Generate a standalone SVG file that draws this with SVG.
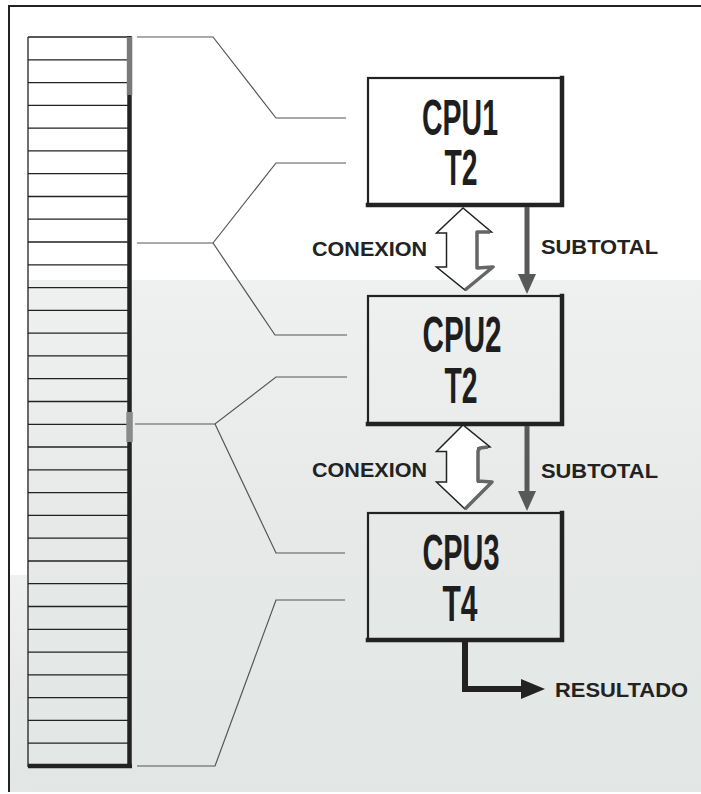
<svg xmlns="http://www.w3.org/2000/svg" width="701" height="794" viewBox="0 0 701 794">
<style>
.frame{fill:none;stroke:#222;stroke-width:2}
.cell{fill:none;stroke:#222;stroke-width:1.3}
.wire{fill:none;stroke:#555;stroke-width:1.2}
.box{fill:none;stroke:#222;stroke-width:2.2}
.shadow{fill:none;stroke:#222;stroke-width:4.5;stroke-linecap:square}
.cpu{font-family:"Liberation Sans",Arial,sans-serif;font-weight:bold;font-size:50px;fill:#1e1e1e;text-anchor:middle}
.lbl{font-family:"Liberation Sans",Arial,sans-serif;font-weight:bold;font-size:21px;fill:#222}
.conex{fill:#fff;stroke:#222;stroke-width:1.5;stroke-linejoin:miter}
.conexs{fill:none;stroke:#666;stroke-width:3.5;stroke-linejoin:round}
.sub{stroke:#585858;stroke-width:5;fill:none}
.subh{fill:#585858}
.res{stroke:#222;stroke-width:6;fill:none;stroke-linejoin:miter}
</style>
<defs>
<linearGradient id="bg" x1="0" y1="0" x2="0" y2="1">
<stop offset="0" stop-color="#eff1f0"/>
<stop offset="0.5" stop-color="#e6e9e8"/>
<stop offset="1" stop-color="#e2e7e5"/>
</linearGradient>
</defs>
<rect width="701" height="794" fill="#fff"/>
<rect x="27" y="280" width="674" height="512" fill="url(#bg)"/>
<rect x="10" y="575" width="17" height="217" fill="url(#bg)"/>
<path class="frame" d="M9,792 V6 H701"/>

<g id="memory">
<path class="cell" d="M28,37 V767"/>
<path class="cell" d="M28,37 H128 M28,59.8 H128 M28,82.6 H128 M28,105.3 H128 M28,128.1 H128 M28,150.9 H128 M28,173.7 H128 M28,196.5 H128 M28,219.2 H128 M28,242 H128 M28,264.8 H128 M28,287.6 H128 M28,310.4 H128 M28,333.1 H128 M28,355.9 H128 M28,378.7 H128 M28,401.5 H128 M28,424.3 H128 M28,447 H128 M28,469.8 H128 M28,492.6 H128 M28,515.4 H128 M28,538.2 H128 M28,561 H128 M28,583.7 H128 M28,606.5 H128 M28,629.3 H128 M28,652.1 H128 M28,674.8 H128 M28,697.6 H128 M28,720.4 H128 M28,743.2 H128"/>
<path d="M129.5,36 V768 M28,766 H132" stroke="#222" stroke-width="4.5" fill="none"/>
<rect x="126.8" y="37" width="5.5" height="58" fill="#7a7a7a"/>
<rect x="126.3" y="412" width="6.5" height="30" fill="#8a8a8a"/>
</g>

<g id="cpu1">
<rect class="box" x="368" y="78" width="194" height="127"/>
<path class="shadow" d="M562,78 V205 H368"/>
<text class="cpu" x="460" y="135" textLength="76" lengthAdjust="spacingAndGlyphs">CPU1</text>
<text class="cpu" x="461" y="185" textLength="33" lengthAdjust="spacingAndGlyphs">T2</text>
</g>

<g id="cpu2">
<rect class="box" x="368" y="296" width="194" height="128"/>
<path class="shadow" d="M562,296 V424 H368"/>
<text class="cpu" x="462" y="352" textLength="79" lengthAdjust="spacingAndGlyphs">CPU2</text>
<text class="cpu" x="461" y="403" textLength="33" lengthAdjust="spacingAndGlyphs">T2</text>
</g>

<g id="cpu3">
<rect class="box" x="368" y="513" width="194" height="127"/>
<path class="shadow" d="M562,513 V640 H368"/>
<text class="cpu" x="461" y="570" textLength="77" lengthAdjust="spacingAndGlyphs">CPU3</text>
<text class="cpu" x="460" y="621" textLength="35" lengthAdjust="spacingAndGlyphs">T4</text>
</g>

<g id="connectors">
<path class="wire" d="M137,37 H213 L276,118 H346"/>
<path class="wire" d="M346,163 H276 L213,243 H137"/>
<path class="wire" d="M213,243 L275,335 H347"/>
<path class="wire" d="M347,377 H276 L215,424 H135"/>
<path class="wire" d="M215,424 L276,553 H345"/>
<path class="wire" d="M345,600 H276 L215,766 H137"/>

<path class="conex" d="M463,208 L436.5,233 L446.5,233 L446.5,267 L436.5,267 L465,290 L493,267 L477,268 L477,232 L491.5,232 Z"/>
<path class="conexs" d="M490,232 L477,232 L477,268 L493,267 L465,290"/>
<path class="conex" d="M463,425 L436.5,451.5 L446.5,451.5 L446.5,482 L436.5,482 L465,509 L492,482 L478,482 L478,448 L490,447 Z"/>
<path class="conexs" d="M488,447 L480,448 L478,451 L478,481 L492,482 L465,509"/>

<path class="sub" d="M527,207 V277"/>
<polygon class="subh" points="518,274 536,274 527,294"/>
<path class="sub" d="M527,426 V494"/>
<polygon class="subh" points="518,491 536,491 527,511"/>

<path class="res" d="M465,642 V689 H524"/>
<polygon points="521,679 545,689 521,699" fill="#222"/>

<text class="lbl" x="312" y="256" textLength="115" lengthAdjust="spacingAndGlyphs">CONEXION</text>
<text class="lbl" x="541" y="254" textLength="117" lengthAdjust="spacingAndGlyphs">SUBTOTAL</text>
<text class="lbl" x="312" y="477" textLength="115" lengthAdjust="spacingAndGlyphs">CONEXION</text>
<text class="lbl" x="541" y="478" textLength="117" lengthAdjust="spacingAndGlyphs">SUBTOTAL</text>
<text class="lbl" x="555" y="697" textLength="133" lengthAdjust="spacingAndGlyphs">RESULTADO</text>
</g>
</svg>
